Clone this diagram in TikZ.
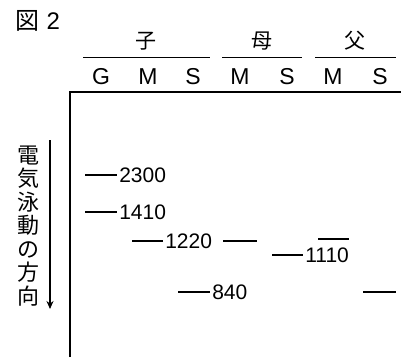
\documentclass[tikz,border=0pt]{standalone}
\usepackage{fontspec}
\setmainfont{Liberation Sans}
\newfontfamily\cjk{Noto Sans CJK JP}
\usetikzlibrary{arrows.meta,positioning}

\tikzset{
    band/.style={line width=2.6pt},
    lane/.style={font=\fontsize{23}{23}\selectfont, inner sep=0pt},
    group/.style={font=\cjk\fontsize{21}{21}\selectfont, inner sep=0pt},
    size/.style={font=\fontsize{21}{21}\selectfont, inner sep=0pt, anchor=west, xshift=1pt}
}

\begin{document}
\begin{tikzpicture}[x=1pt, y=-1pt]
    \useasboundingbox (0, 0) rectangle (409, 357);

    \node[inner sep=0pt, font=\fontsize{24}{24}\selectfont] (title) at (38, 21) {{\cjk 図}\ 2};

    % groups
    \node[group] (ko) at (146, 41) {子};
    \node[group] (haha) at (262, 41) {母};
    \node[group] (chichi) at (355, 41) {父};
    \draw[line width=0.9pt]
        (83, 57) edge (210, 57)
        (222, 57) edge (302, 57)
        (315, 57) edge (396, 57);

    % lanes
    \node[lane] (kG) at (101, 77) {G};
    \node[lane] (kM) at (148, 77) {M};
    \node[lane] (kS) at (193, 77) {S};
    \node[lane] (hM) at (240, 77) {M};
    \node[lane] (hS) at (287, 77) {S};
    \node[lane] (cM) at (333, 77) {M};
    \node[lane] (cS) at (380, 77) {S};

    % gel frame
    \draw[line width=1.5pt] (70, 357) -- (70, 92) -- (401, 92);

    % direction
    \node[font=\cjk\fontsize{22}{23.5}\selectfont, align=center, inner sep=0pt] (dir) at (28, 226)
        {電\\気\\泳\\動\\の\\方\\向};
    \coordinate (dtop) at (50, 140);
    \coordinate (dbot) at (50, 309);
    \draw[-{Stealth[length=8pt, width=7pt]}, line width=1.2pt] (dtop) -- (dbot);

    % bands
    \draw[band] (85, 175) -- (117, 175) node[size] (b2300) {2300};
    \draw[band] (85, 212) -- (117, 212) node[size] (b1410) {1410};
    \draw[band] (132, 241) -- (163, 241) node[size] (b1220) {1220};
    \draw[band] (178, 292) -- (210, 292) node[size] (b840) {840};
    \draw[band] (223, 241) -- (257, 241);
    \draw[band] (272, 255) -- (303, 255) node[size] (b1110) {1110};
    \draw[band] (318, 239) -- (349, 239);
    \draw[band] (363, 292) -- (396, 292);
\end{tikzpicture}
\end{document}
